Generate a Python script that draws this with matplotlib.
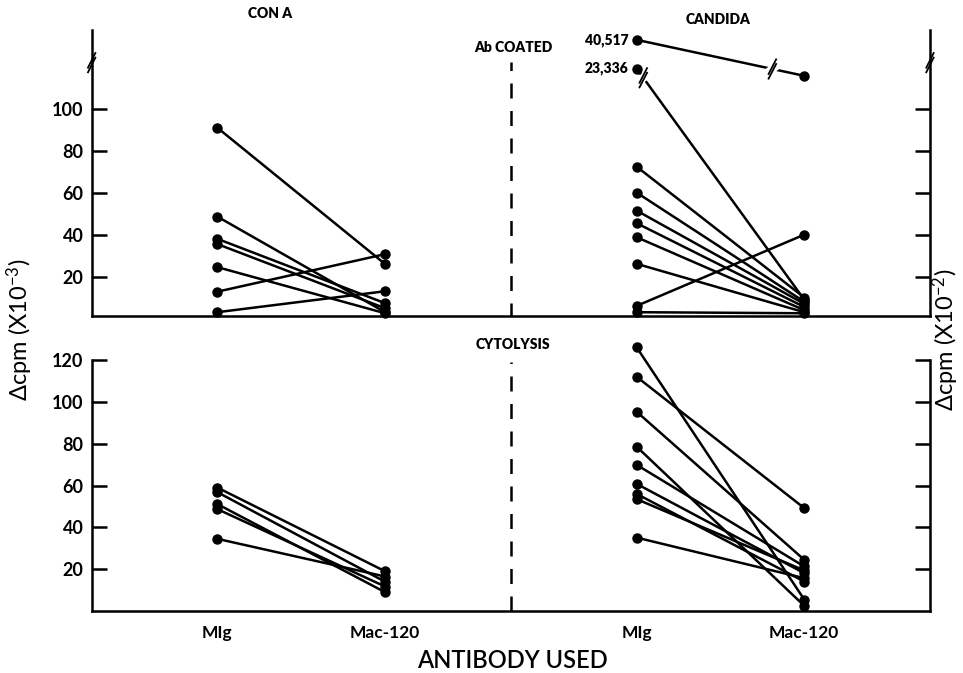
import matplotlib
matplotlib.use('Agg')
import matplotlib.pyplot as plt

plt.rcParams['font.family'] = ['Lato', 'DejaVu Sans']
plt.rcParams['mathtext.default'] = 'regular'

# x categories
antibodies = ['MIg', 'Mac-120']
panel_titles = ['CON A', 'CANDIDA']

# Ab coated, CON A (x10^-3)
conA_coat_mig = [91.0, 48.6, 38.0, 35.5, 24.5, 12.8, 3.0]
conA_coat_mac = [26.0, 3.0, 7.3, 4.9, 2.5, 30.7, 13.0]
# Ab coated, CANDIDA (x10^-2)
cand_coat_mig = [72.5, 60.1, 51.5, 45.5, 38.8, 26.1, 6.0, 3.0]
cand_coat_mac = [10.0, 8.0, 7.0, 5.5, 4.0, 3.0, 40.0, 2.5]
# off-scale CANDIDA values (x10^-2), shown above the axis break
cand_big_mig = [405.17, 233.36]
cand_big_mac = [189.5, 9.0]

# Cytolysis
conA_cyto_mig = [59.0, 56.8, 51.1, 48.7, 34.5]
conA_cyto_mac = [19.0, 14.0, 9.0, 11.7, 16.5]
cand_cyto_mig = [126.1, 112.0, 95.3, 78.6, 69.9, 60.8, 56.0, 53.5, 35.1]
cand_cyto_mac = [5.5, 49.2, 24.5, 2.5, 21.3, 18.1, 14.1, 19.4, 15.7]

x_left = [1.0, 2.0]
x_right = [3.5, 4.5]
x_div = 2.75


def broken(v):
    # compress values above the break (top panel only)
    return v if v <= 120 else 100.69 + 0.07974 * v


def pairs(ax, xs, a, b, brk=False):
    f = broken if brk else (lambda v: v)
    for m, c in zip(a, b):
        ax.plot(xs, [f(m), f(c)], color='black', lw=1.8,
                marker='o', ms=6.5, clip_on=False, zorder=3)


def slash(ax, x, y, sx=0.045, sy=7.0, gap=2.2):
    ax.plot([x - 0.02, x + 0.02], [y - 1.2, y + 1.2], color='white', lw=6, zorder=4, clip_on=False)
    for off in (-gap / 2, gap / 2):
        ax.plot([x - sx / 2, x + sx / 2], [y - sy / 2 + off, y + sy / 2 + off],
                color='black', lw=1.3, zorder=5, clip_on=False)


def style(ax):
    ax.set_xlim(0.25, 5.25)
    ax.spines['top'].set_visible(False)
    for s in ('left', 'right', 'bottom'):
        ax.spines[s].set_linewidth(1.8)
    ax.tick_params(axis='y', direction='in', length=11, width=1.8, left=True, right=True,
                   labelright=False, labelsize=13, pad=6)
    ax.tick_params(axis='x', length=0, labelsize=12.5, pad=10)
    for lab in ax.get_yticklabels() + ax.get_xticklabels():
        lab.set_fontweight('bold')


fig = plt.figure(figsize=(9.63, 6.73), dpi=100)
ax1 = fig.add_axes([0.0952, 0.5305, 0.8705, 0.425])
ax2 = fig.add_axes([0.0952, 0.0921, 0.8705, 0.373])

# top panel
ax1.set_ylim(1.2, 137.7)
ax1.set_yticks([20, 40, 60, 80, 100])
ax1.set_xticks([])
style(ax1)
ax1.plot([x_div, x_div], [0, 122.5], color='black', lw=1.8, dashes=(6, 5))
pairs(ax1, x_left, conA_coat_mig, conA_coat_mac)
pairs(ax1, x_right, cand_coat_mig, cand_coat_mac)
pairs(ax1, x_right, cand_big_mig, cand_big_mac, brk=True)
for v in cand_big_mig:
    ax1.annotate(f'{v * 100:,.0f}', (x_right[0], broken(v)), xytext=(-6, 0),
                 textcoords='offset points', ha='right', va='center',
                 fontsize=10, fontweight='heavy')
# break marks on the off-scale lines
for m, c, t in zip(cand_big_mig, cand_big_mac, [0.81, 0.04]):
    y0, y1 = broken(m), broken(c)
    slash(ax1, x_right[0] + t, y0 + (y1 - y0) * t)
# axis breaks
for xb in (0.25, 5.25):
    ax1.plot([xb - 0.022, xb + 0.022], [117.5, 124.5], color='black', lw=1.3, clip_on=False)
    ax1.plot([xb - 0.022, xb + 0.022], [119.7, 126.7], color='black', lw=1.3, clip_on=False)

# bottom panel
ax2.set_ylim(0, 120)
ax2.set_yticks([20, 40, 60, 80, 100, 120])
ax2.set_xticks(x_left + x_right)
ax2.set_xticklabels(antibodies * 2)
style(ax2)
ax2.plot([x_div, x_div], [0, 119], color='black', lw=1.8, dashes=(6, 5))
pairs(ax2, x_left, conA_cyto_mig, conA_cyto_mac)
pairs(ax2, x_right, cand_cyto_mig, cand_cyto_mac)

# texts
fig.text(270 / 963, 1 - 13 / 673, panel_titles[0], ha='center', va='center', fontsize=10, fontweight='heavy')
fig.text(718 / 963, 1 - 20 / 673, panel_titles[1], ha='center', va='center', fontsize=10, fontweight='heavy')
fig.text(513 / 963, 1 - 47 / 673, 'Ab COATED', ha='center', va='center', fontsize=10, fontweight='heavy')
fig.text(513 / 963, 1 - 345 / 673, 'CYTOLYSIS', ha='center', va='center', fontsize=10, fontweight='heavy')
fig.text(512 / 963, 1 - 660 / 673, 'ANTIBODY USED', ha='center', va='center', fontsize=17,
         fontweight='semibold')
fig.text(20 / 963, 1 - 330 / 673, r'$\Delta$cpm (X10$^{-3}$)', ha='center', va='center',
         rotation=90, fontsize=17)
fig.text(946 / 963, 1 - 340 / 673, r'$\Delta$cpm (X10$^{-2}$)', ha='center', va='center',
         rotation=90, fontsize=17)

fig.savefig('out.png', dpi=100)
